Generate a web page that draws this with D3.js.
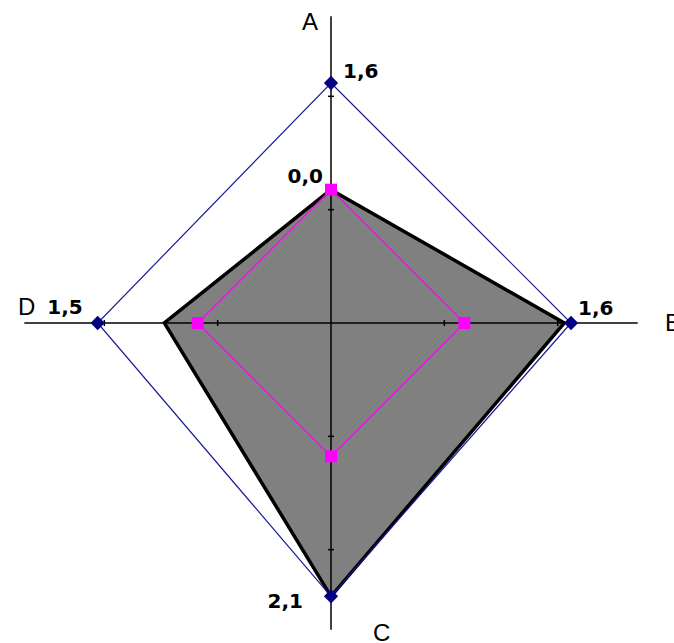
<!DOCTYPE html>
<html>
<head>
<meta charset="utf-8">
<script src="https://cdn.jsdelivr.net/npm/d3@7"></script>
<style>
    body { margin: 0; background: #fff; }
    svg { display: block; }
</style>
</head>
<body>
<svg id="radar"></svg>
<script>
// axes of the radar
const categories = ["A", "B", "C", "D"];
// series (gray area, magenta squares, blue diamonds)
const grayValues = [0.0, 1.5, 2.1, 0.5];
const pinkValues = [0.0, 0.0, 0.0, 0.0];
const blueValues = [1.6, 1.6, 2.1, 1.5];
const tickValues = [-0.3, 1.4];

const width = 674;
const height = 643;
const cx = 331;
const cy = 323;

const svg = d3.select("#radar")
    .attr("width", width)
    .attr("height", height);

const r = d3.scaleLinear().domain([-2, 2.5]).range([0, 300]);
const angle = d3.scalePoint().domain(categories).range([0, 1.5 * Math.PI]);

function px(cat, v) { return cx + r(v) * Math.sin(angle(cat)); }
function py(cat, v) { return cy - r(v) * Math.cos(angle(cat)); }

function points(values) {
    return categories.map((c, i) => [px(c, values[i]), py(c, values[i])]);
}

const line = d3.line().curve(d3.curveLinearClosed);

// gray filled series
svg.append("path")
    .attr("d", line(points(grayValues)))
    .attr("fill", "#808080")
    .attr("stroke", "none");

// axes
const axisMax = 2.6;
const axes = svg.append("g");
axes.selectAll("line.axis")
    .data(categories)
    .join("line")
    .attr("class", "axis")
    .attr("x1", cx).attr("y1", cy)
    .attr("x2", d => px(d, axisMax))
    .attr("y2", d => py(d, axisMax))
    .attr("stroke", "#000")
    .attr("stroke-width", 1.5);

// tick marks
const ticks = [];
categories.forEach(c => tickValues.forEach(t => ticks.push({ c: c, t: t })));
axes.selectAll("line.tick")
    .data(ticks)
    .join("line")
    .attr("class", "tick")
    .attr("x1", d => px(d.c, d.t) - 3 * Math.cos(angle(d.c)))
    .attr("y1", d => py(d.c, d.t) - 3 * Math.sin(angle(d.c)))
    .attr("x2", d => px(d.c, d.t) + 3 * Math.cos(angle(d.c)))
    .attr("y2", d => py(d.c, d.t) + 3 * Math.sin(angle(d.c)))
    .attr("stroke", "#000")
    .attr("stroke-width", 1.5);

// gray outline
svg.append("path")
    .attr("d", line(points(grayValues)))
    .attr("fill", "none")
    .attr("stroke", "#000")
    .attr("stroke-width", 3.5)
    .attr("stroke-linejoin", "miter");

// magenta series
svg.append("path")
    .attr("d", line(points(pinkValues)))
    .attr("fill", "none")
    .attr("stroke", "#ff00ff")
    .attr("stroke-width", 1.2);

svg.append("g")
    .selectAll("rect")
    .data(points(pinkValues))
    .join("rect")
    .attr("x", d => d[0] - 6)
    .attr("y", d => d[1] - 6)
    .attr("width", 12)
    .attr("height", 12)
    .attr("fill", "#ff00ff");

// blue series
svg.append("path")
    .attr("d", line(points(blueValues)))
    .attr("fill", "none")
    .attr("stroke", "#1a1a99")
    .attr("stroke-width", 1.2);

const diamond = d3.symbol().type(d3.symbolDiamond2).size(130);
svg.append("g")
    .selectAll("path")
    .data(points(blueValues))
    .join("path")
    .attr("transform", d => `translate(${d[0]},${d[1]})`)
    .attr("d", diamond)
    .attr("fill", "#000080");

// axis names
const nameOffsets = {
    A: { dx: -13, dy: 30 - cy, anchor: "end" },
    B: { dx: 334, dy: 8, anchor: "start" },
    C: { dx: 42, dy: 642 - cy - 1, anchor: "start" },
    D: { dx: -313, dy: -8, anchor: "start" }
};
svg.append("g")
    .selectAll("text")
    .data(categories)
    .join("text")
    .attr("x", d => cx + nameOffsets[d].dx)
    .attr("y", d => cy + nameOffsets[d].dy)
    .attr("text-anchor", d => nameOffsets[d].anchor)
    .attr("font-family", "Liberation Sans, Arial, sans-serif")
    .attr("font-size", 24)
    .attr("fill", "#000")
    .text(d => d);

// data labels
const fmt = v => d3.format(".1f")(v).replace(".", ",");
const blueLabelPos = {
    A: { dx: 12, dy: -5, anchor: "start" },
    B: { dx: 7, dy: -8, anchor: "start" },
    C: { dx: -28, dy: 12, anchor: "end" },
    D: { dx: -15, dy: -9, anchor: "end" }
};
svg.append("g")
    .selectAll("text")
    .data(categories)
    .join("text")
    .attr("x", (d, i) => px(d, blueValues[i]) + blueLabelPos[d].dx)
    .attr("y", (d, i) => py(d, blueValues[i]) + blueLabelPos[d].dy)
    .attr("text-anchor", d => blueLabelPos[d].anchor)
    .attr("font-family", "DejaVu Sans, Verdana, sans-serif")
    .attr("font-weight", "bold")
    .attr("font-size", 20)
    .attr("fill", "#000")
    .text((d, i) => fmt(blueValues[i]));

svg.append("text")
    .attr("x", px("A", pinkValues[0]) - 8)
    .attr("y", py("A", pinkValues[0]) - 7)
    .attr("text-anchor", "end")
    .attr("font-family", "DejaVu Sans, Verdana, sans-serif")
    .attr("font-weight", "bold")
    .attr("font-size", 20)
    .attr("fill", "#000")
    .text(fmt(pinkValues[0]));
</script>
</body>
</html>
